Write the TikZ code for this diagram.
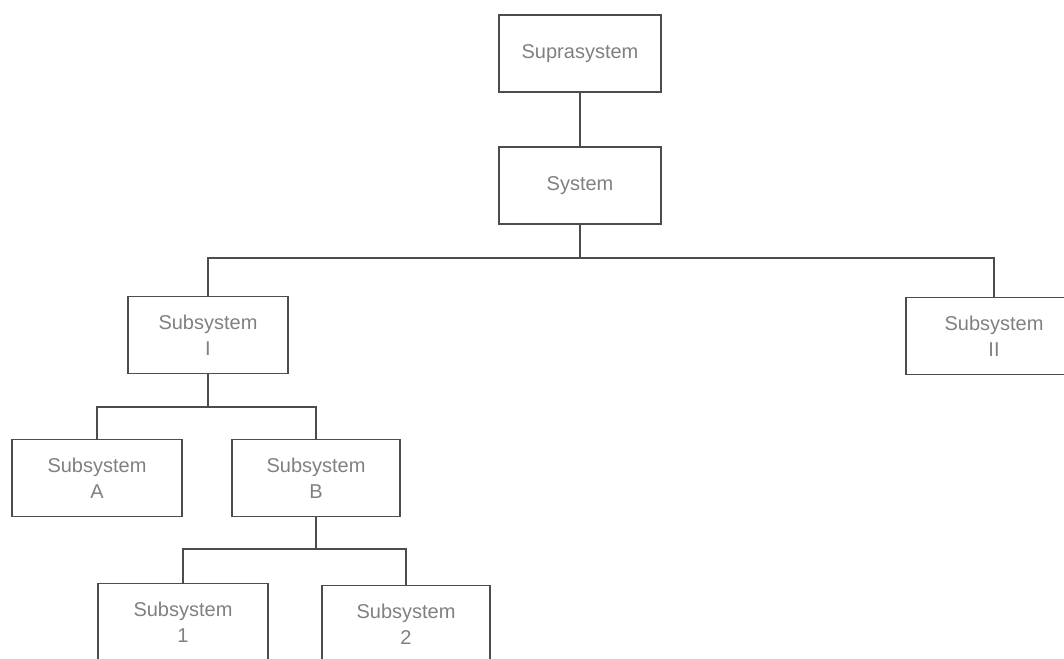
\documentclass[tikz,border=0pt]{standalone}
\usepackage{fontspec}
\setmainfont{Liberation Sans}
\usepackage{xcolor}
\definecolor{boxline}{gray}{0.3}
\definecolor{boxtext}{gray}{0.5}

\begin{document}
\begin{tikzpicture}[x=0.5pt,y=-0.5pt,
		sysbox/.style={draw=boxline,line width=0.9pt,rectangle,align=center,
			inner sep=0pt,minimum height=38.5pt,text=boxtext,
			font=\fontsize{10}{13}\selectfont},
		link/.style={draw=boxline,line width=0.9pt}]
			\useasboundingbox (0,0) rectangle (1064,658);
			\clip (0,0) rectangle (1064,658);
			\begin{scope}
				\node[sysbox,minimum width=81pt] (supra) at (580,53.5) {Suprasystem};
				\node[sysbox,minimum width=81pt] (sys) at (580,185.5) {System};
				%
				\node[sysbox,minimum width=80pt] (subI) at (208,335) {Subsystem\\I};
				\node[sysbox,minimum width=88pt] (subII) at (994,336) {Subsystem\\II};
				%
				\node[sysbox,minimum width=85pt] (subA) at (97,478) {Subsystem\\A};
				\node[sysbox,minimum width=84pt] (subB) at (316,478) {Subsystem\\B};
				%
				\node[sysbox,minimum width=85pt] (sub1) at (183,622) {Subsystem\\1};
				\node[sysbox,minimum width=84pt] (sub2) at (406,624) {Subsystem\\2};
				%
				\coordinate (j0) at (580,258);
				\coordinate (j1) at (208,407);
				\coordinate (j2) at (316,549);
				\draw[link] (supra) -- (sys);
				\draw[link] (sys) -- (j0);
				\draw[link] (subI) -- (j1);
				\draw[link] (subB) -- (j2);
				\foreach \S/\E in {j0/subI, j0/subII, j1/subA, j1/subB, j2/sub1, j2/sub2}
					\draw[link] (\S) -| (\E);
			\end{scope}
		\end{tikzpicture}
\end{document}
